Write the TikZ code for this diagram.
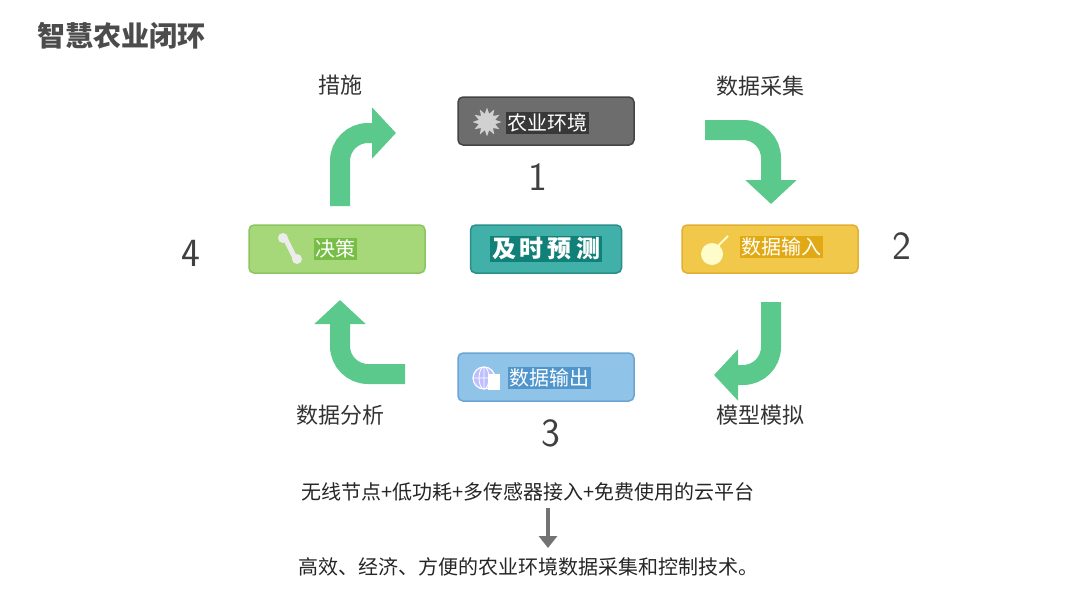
\documentclass[tikz,border=0pt]{standalone}
\usepackage{fontspec}
\setmainfont{Noto Sans CJK SC}
\usetikzlibrary{arrows.meta,shapes.geometric}
\definecolor{ag}{HTML}{5BC98C}
\definecolor{envF}{HTML}{6D6D6D}\definecolor{envD}{HTML}{444444}\definecolor{envH}{HTML}{383838}
\definecolor{decF}{HTML}{A6D87A}\definecolor{decD}{HTML}{8CC45F}\definecolor{decH}{HTML}{78BE46}
\definecolor{preF}{HTML}{40B0A8}\definecolor{preD}{HTML}{2A8F88}\definecolor{preH}{HTML}{108078}
\definecolor{inpF}{HTML}{F2C84B}\definecolor{inpD}{HTML}{E1AF32}\definecolor{inpH}{HTML}{E1AA14}
\definecolor{outF}{HTML}{8FC3E8}\definecolor{outD}{HTML}{6AA5D6}\definecolor{outH}{HTML}{5096CD}
\tikzset{
 box/.style={draw=#1D,fill=#1F,line width=1.5pt,rounded corners=5pt,minimum width=176pt,minimum height=48pt},
 hl/.style={fill=#1H,text=white,inner sep=1.5pt,font=\fontsize{20}{20}\selectfont},
 garrow/.style={draw=ag,line width=20pt,rounded corners=28pt,-{Triangle[length=24pt,width=50pt]}},
 lbl/.style={font=\fontsize{22}{22}\selectfont,text=black!80},
 num/.style={font=\sffamily\fontsize{40}{40}\selectfont,text=black!75},
}
\begin{document}
\begin{tikzpicture}[x=1pt,y=-1pt]
\useasboundingbox (0,0) rectangle (1080,608);
\node[anchor=west,font=\fontsize{28}{28}\selectfont\bfseries,text=black!70] (title) at (34,36) {智慧农业闭环};
% boxes
\node[box=env] (env) at (546,121) {};
\node[box=dec] (dec) at (337,249) {};
\node[box=pre,minimum width=151pt] (pred) at (546,249) {};
\node[box=inp] (inp) at (770,249) {};
\node[box=out] (out) at (546,377) {};
% labels and icons
\node[hl=env,anchor=west] (envt) at (506,123) {农业环境};
\node[star,star points=12,star point ratio=1.7,fill=black!18,inner sep=6pt] (sun) at (487,122) {};
\node[hl=dec,anchor=west] (dect) at (314,249) {决策};
\draw[white!85!gray,line width=5pt,line cap=round] (285,238) -- (295,258);
\fill[white!85!gray] (283,238) circle (5pt) (297,259) circle (5pt);
\node[fill=preH,text=white,inner sep=2pt,font=\fontsize{24}{24}\selectfont\bfseries] (predt) at (546,249) {及\,时\,预\,测};
\node[hl=inp,anchor=west] (inpt) at (740,247) {数据输入};
\fill[white!80!yellow] (712,254) circle (11pt);
\draw[white!80!yellow,line width=2pt] (718,246) -- (728,236);
\node[hl=out,anchor=west] (outt) at (508,378) {数据输出};
\draw[white,line width=1.2pt,fill=blue!25] (484,378) circle (11pt);
\draw[white,line width=0.8pt] (473,378) -- (495,378) (484,367) -- (484,389) (484,378) ellipse (5pt and 11pt);
\fill[white] (488,374) rectangle (500,390);
% arrows
\coordinate (a1s) at (705,130); \coordinate (a1c) at (771,130); \coordinate (a1e) at (771,204);
\draw[garrow] (a1s) -- (a1c) -- (a1e);
\coordinate (a2s) at (771,302); \coordinate (a2c) at (771,375); \coordinate (a2e) at (714,375);
\draw[garrow] (a2s) -- (a2c) -- (a2e);
\coordinate (a3s) at (405,374); \coordinate (a3c) at (340,374); \coordinate (a3e) at (340,300);
\draw[garrow] (a3s) -- (a3c) -- (a3e);
\coordinate (a4s) at (340,206); \coordinate (a4c) at (340,133); \coordinate (a4e) at (396,133);
\draw[garrow] (a4s) -- (a4c) -- (a4e);
\node[lbl] (l1) at (340,85) {措施};
\node[lbl] (l2) at (760,86) {数据采集};
\node[lbl] (l3) at (340,415) {数据分析};
\node[lbl] (l4) at (760,415) {模型模拟};
\node[num] (n1) at (538,177) {1};
\node[num] (n2) at (902,246) {2};
\node[num] (n3) at (551,433) {3};
\node[num] (n4) at (191,253) {4};
\node[font=\fontsize{20}{20}\selectfont,text=black!85] (b1) at (528,492) {无线节点+低功耗+多传感器接入+免费使用的云平台};
\node[font=\fontsize{20}{20}\selectfont,text=black!85] (b2) at (528,567) {高效、经济、方便的农业环境数据采集和控制技术。};
\coordinate (da) at (548,508); \coordinate (db) at (548,548);
\draw[black!55,line width=4pt,-{Triangle[length=12pt,width=18pt]}] (da) -- (db);
\end{tikzpicture}
\end{document}
